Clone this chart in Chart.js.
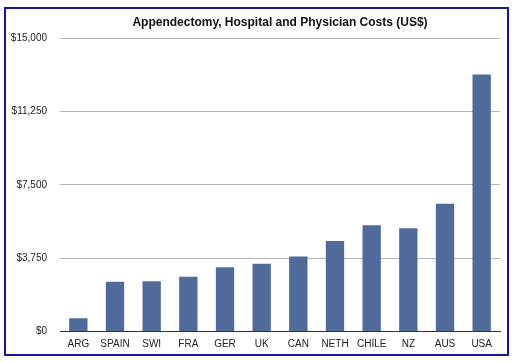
<!DOCTYPE html>
<html>
<head>
<meta charset="utf-8">
<script src="https://cdn.jsdelivr.net/npm/chart.js@4"></script>
<style>
  html, body { margin: 0; padding: 0; background: #fff; }
  #wrap { position: relative; width: 514px; height: 362px; }
  #frame {
    position: absolute; left: 4px; top: 7px; width: 501px; height: 345px;
    border: 2px solid #1515a3; pointer-events: none;
  }
</style>
</head>
<body>
<div id="wrap">
  <canvas id="costChart" width="514" height="362"></canvas>
  <div id="frame"></div>
</div>
<script>
// chart data
const titleText = "Appendectomy, Hospital and Physician Costs (US$)";
const countries = ["ARG", "SPAIN", "SWI", "FRA", "GER", "UK", "CAN", "NETH", "CHILE", "NZ", "AUS", "USA"];
const costs = [680, 2540, 2570, 2800, 3290, 3460, 3830, 4630, 5430, 5280, 6530, 13130];
const yTicks = [0, 3750, 7500, 11250, 15000];

const fontFamily = "'Liberation Sans', Arial, Helvetica, sans-serif";

// title centred over the plot area, like the original
const plotTitle = {
  id: "plotTitle",
  afterDraw(chart) {
    const { ctx, chartArea } = chart;
    ctx.save();
    ctx.font = "bold 12px " + fontFamily;
    ctx.fillStyle = "#111";
    ctx.textAlign = "center";
    ctx.textBaseline = "middle";
    ctx.fillText(titleText, (chartArea.left + chartArea.right) / 2, 23);
    ctx.restore();
  },
};

const ctx = document.getElementById("costChart");

new Chart(ctx, {
  type: "bar",
  data: {
    labels: countries,
    datasets: [
      {
        label: "Cost",
        data: costs,
        backgroundColor: "#4e6b9b",
        borderWidth: 0,
        barPercentage: 0.5,
        categoryPercentage: 1.0,
      },
    ],
  },
  options: {
    responsive: false,
    animation: false,
    layout: {
      padding: { top: 38, right: 14, bottom: 4.5, left: 11 },
    },
    plugins: {
      legend: { display: false },
      tooltip: { enabled: false },
    },
    scales: {
      x: {
        grid: { display: false, drawTicks: false },
        border: { display: true, color: "#333", width: 1 },
        ticks: {
          padding: 7,
          color: "#222",
          font: { family: fontFamily, size: 10 },
          maxRotation: 0,
          autoSkip: false,
        },
      },
      y: {
        min: 0,
        max: 15000,
        afterBuildTicks: (axis) => {
          axis.ticks = yTicks.map((v) => ({ value: v }));
        },
        afterFit: (axis) => {
          axis.width = 49;
        },
        grid: { color: "#b5b5b5", drawTicks: false, lineWidth: 1 },
        border: { display: false },
        ticks: {
          padding: 13,
          color: "#222",
          font: { family: fontFamily, size: 10 },
          callback: (v) => "$" + v.toLocaleString("en-US"),
        },
      },
    },
  },
  plugins: [plotTitle],
});
</script>
</body>
</html>
